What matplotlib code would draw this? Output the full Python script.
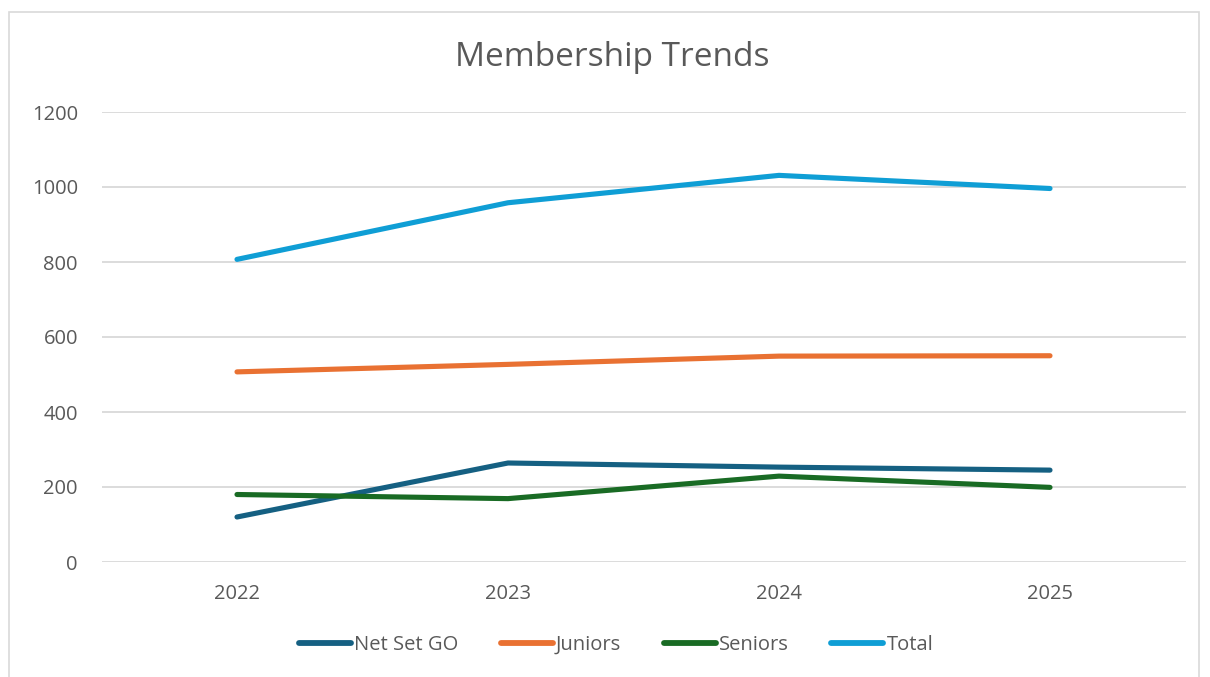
import matplotlib.pyplot as plt
from matplotlib.patches import Rectangle

years = ["2022", "2023", "2024", "2025"]
net_set_go = [120, 264, 253, 245]
juniors = [507, 527, 549, 550]
seniors = [180, 169, 229, 199]
total = [807, 958, 1031, 996]

series = [
    ("Net Set GO", net_set_go, "#156082"),
    ("Juniors", juniors, "#E97132"),
    ("Seniors", seniors, "#196B24"),
    ("Total", total, "#0F9ED5"),
]

plt.rcParams["font.family"] = ["Open Sans", "DejaVu Sans"]
text_col = "#595959"

fig = plt.figure(figsize=(12.1, 6.77), dpi=100)
W, H = 1210, 677

# outer chart border
fig.patches.append(Rectangle((9 / W, 0 - 0.01), 1190 / W, (H - 12) / H + 0.01,
                             transform=fig.transFigure, fill=False,
                             edgecolor="#D9D9D9", linewidth=1.2))

ax = fig.add_axes([101.5 / W, (H - 562) / H, 1084 / W, 450 / H])
x = list(range(len(years)))
for name, vals, col in series:
    ax.plot(x, vals, color=col, linewidth=3.7, label=name,
            solid_capstyle="round", solid_joinstyle="round")

ax.set_xlim(-0.5, len(years) - 0.5)
ax.set_ylim(0, 1200)
ax.set_yticks(range(0, 1201, 200))
ax.set_xticks(x)
ax.set_xticklabels(years)
ax.grid(axis="y", color="#D9D9D9", linewidth=1.3)
ax.set_axisbelow(True)
for s in ax.spines.values():
    s.set_visible(False)
ax.tick_params(length=0, labelsize=14.5, labelcolor=text_col)
ax.tick_params(axis="y", pad=17)
ax.tick_params(axis="x", pad=16)

fig.text(612 / W, 1 - 57 / H, "Membership Trends", ha="center", va="center",
         fontsize=24, color=text_col)

leg = ax.legend(loc="center", bbox_to_anchor=(616 / W, 1 - 645 / H),
                bbox_transform=fig.transFigure, ncol=4, frameon=False,
                fontsize=14.5, handlelength=2.6, handletextpad=0.15,
                columnspacing=2.1)
for t in leg.get_texts():
    t.set_color(text_col)
for h in leg.get_lines():
    h.set_linewidth(4.2)

fig.savefig("out.png", dpi=100)
